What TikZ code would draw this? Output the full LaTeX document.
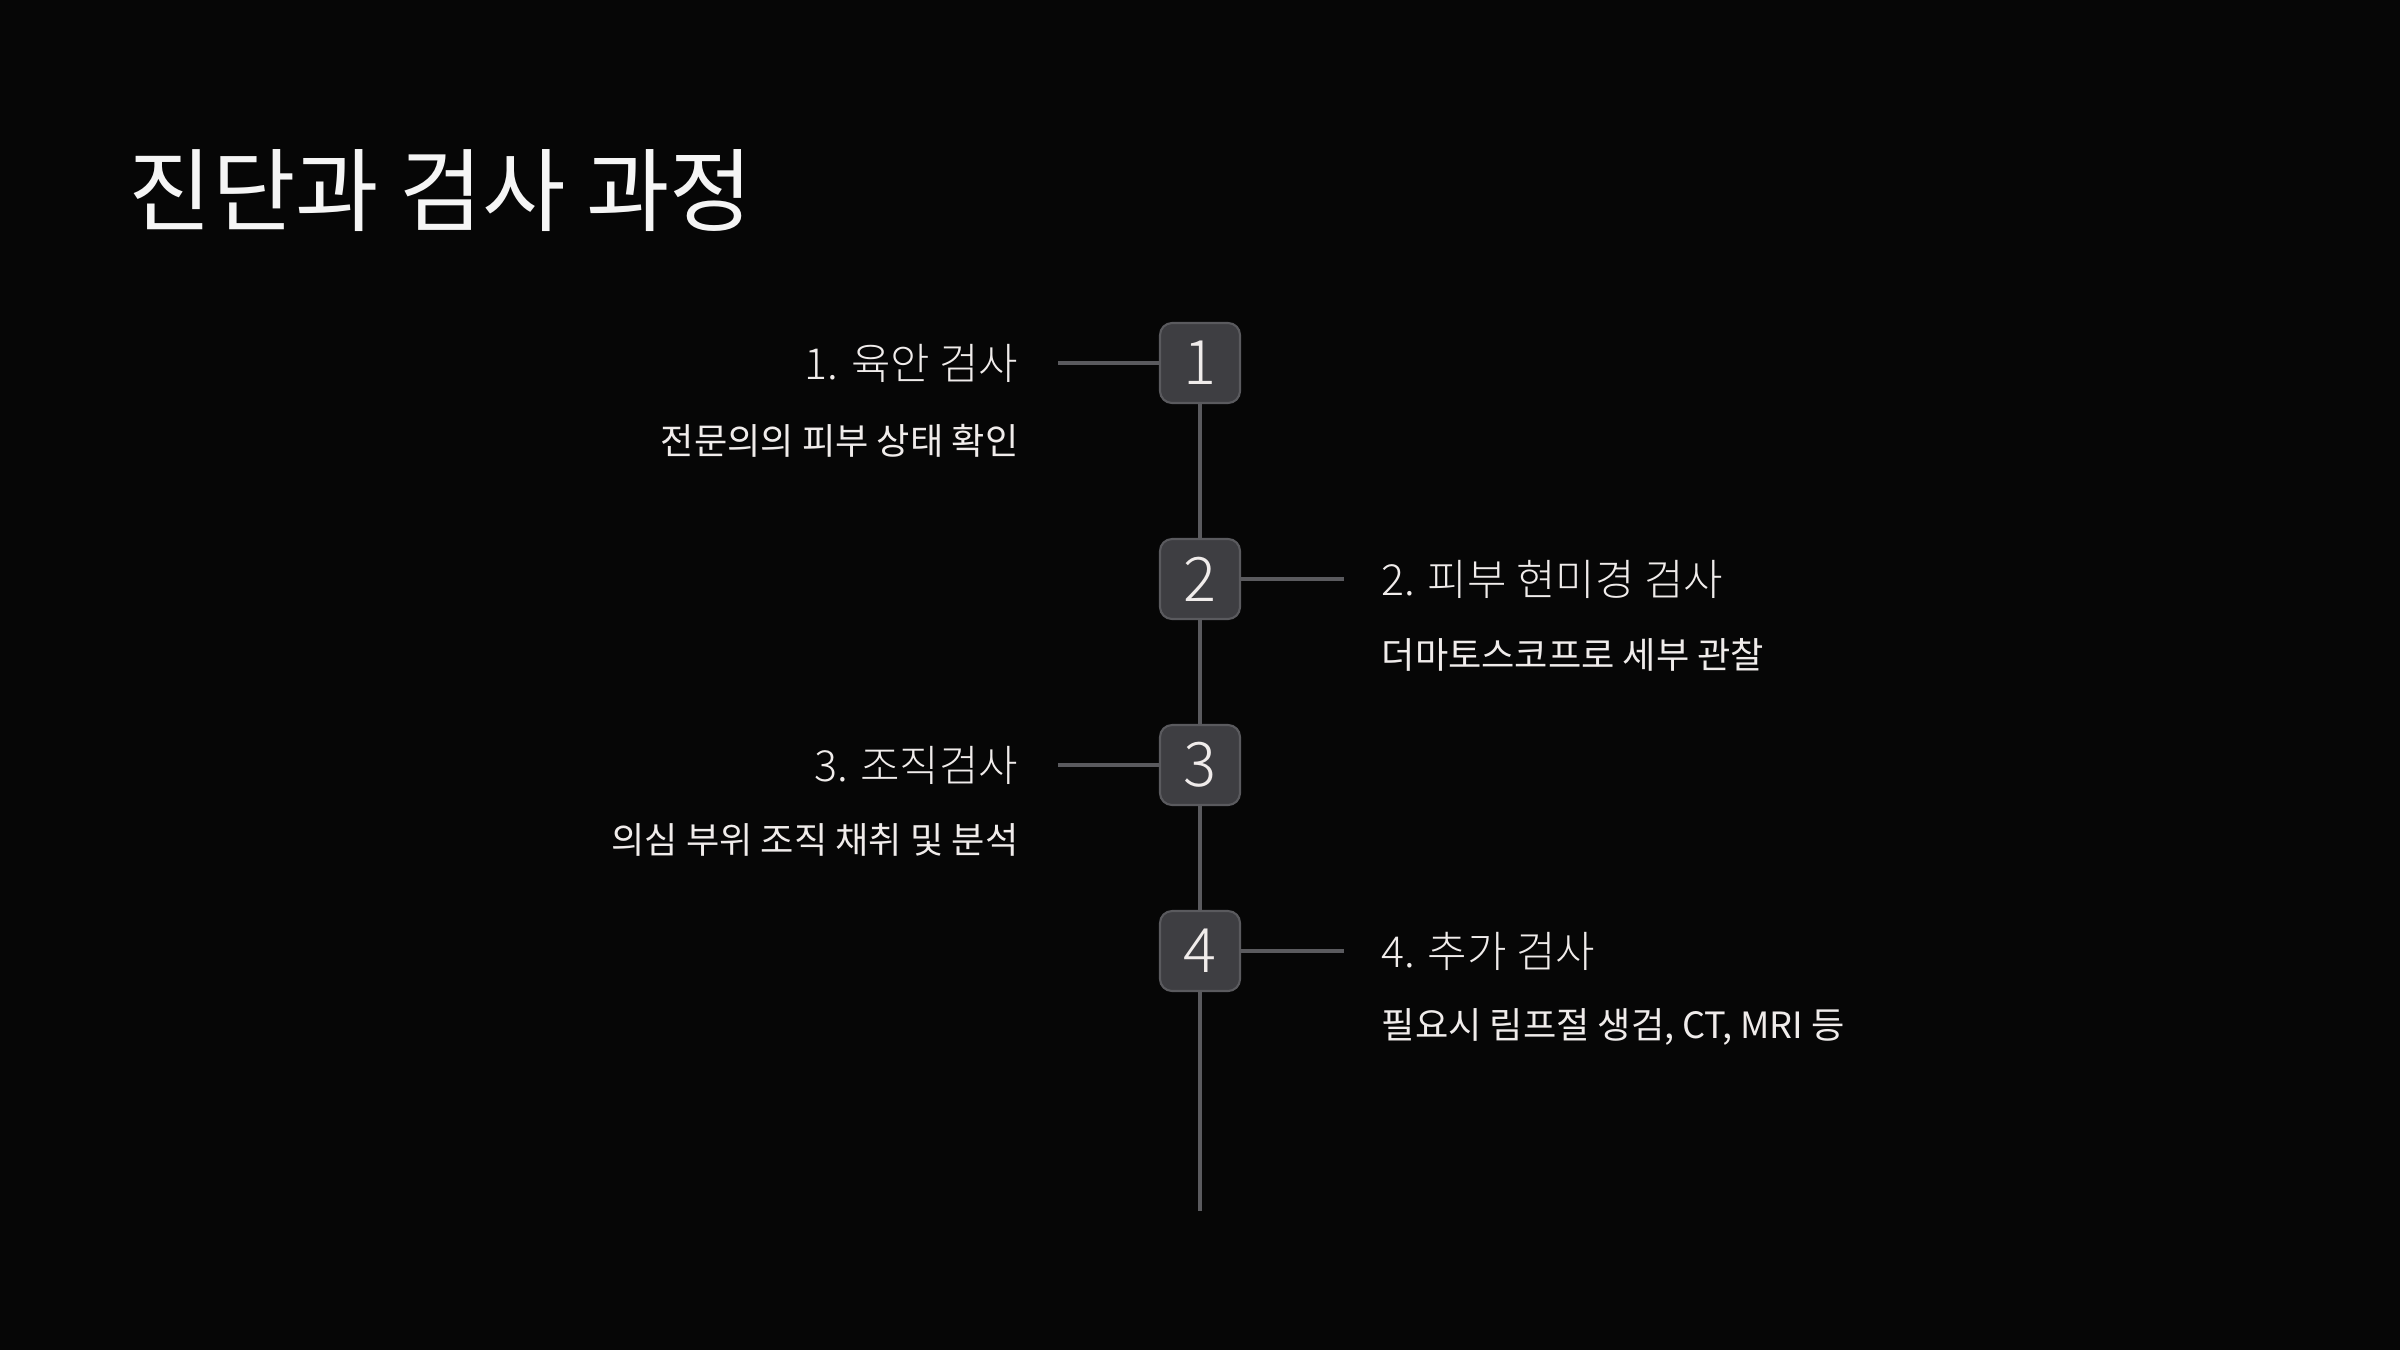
\documentclass[tikz,border=0pt]{standalone}
\usepackage{fontspec}
\setmainfont{Noto Sans CJK KR}
\newfontfamily\lightfont{Noto Sans CJK KR Light}
\usetikzlibrary{calc, positioning}

\definecolor{bgdark}{HTML}{060606}
\definecolor{boxfill}{HTML}{3E3E42}
\definecolor{boxline}{HTML}{5A5A5E}
\definecolor{txtwhite}{HTML}{F0ECEB}

\begin{document}
\begin{tikzpicture}[x=1cm, y=-1cm,
    stepbox/.style={draw=boxline, fill=boxfill, line width=0.6pt, rounded corners=0.12cm,
        minimum size=0.8cm, inner sep=0pt, text=txtwhite, font=\lightfont\fontsize{17.5}{20}\selectfont},
    headtext/.style={inner sep=0pt, text=txtwhite, font=\lightfont\fontsize{12.2}{14}\selectfont},
    subtext/.style={inner sep=0pt, text=txtwhite, font=\fontsize{10.3}{12}\selectfont},
    link/.style={draw=boxline, line width=1.1pt}]
        \fill[bgdark] (0,0) rectangle (24,13.5);

        \node[anchor=west, inner sep=0pt, text=white!96!black, font=\fontsize{25.8}{30}\selectfont] (title) at (1.28,1.91) {진단과 검사 과정};

        \node[stepbox] (s1) at (12,3.63) {1};
        \node[stepbox] (s2) at (12,5.79) {2};
        \node[stepbox] (s3) at (12,7.65) {3};
        \node[stepbox] (s4) at (12,9.51) {4};
        \coordinate (lineend) at (12,12.11);

        \coordinate (c1) at (10.58,3.63);
        \coordinate (c2) at (13.44,5.79);
        \coordinate (c3) at (10.58,7.65);
        \coordinate (c4) at (13.44,9.51);

        % timeline
        \draw[link] (s1) -- (s2);
        \draw[link] (s2) -- (s3);
        \draw[link] (s3) -- (s4);
        \draw[link] (s4) -- (lineend);

        \draw[link] (c1) -- (s1.west);
        \draw[link] (s2.east) -- (c2);
        \draw[link] (c3) -- (s3.west);
        \draw[link] (s4.east) -- (c4);

        \node[headtext, anchor=east] (h1) at (10.19,3.63) {1. 육안 검사};
        \node[subtext, anchor=east] (d1) at (10.19,4.41) {전문의의 피부 상태 확인};

        \node[headtext, anchor=west] (h2) at (13.81,5.79) {2. 피부 현미경 검사};
        \node[subtext, anchor=west] (d2) at (13.81,6.55) {더마토스코프로 세부 관찰};

        \node[headtext, anchor=east] (h3) at (10.19,7.65) {3. 조직검사};
        \node[subtext, anchor=east] (d3) at (10.19,8.40) {의심 부위 조직 채취 및 분석};

        \node[headtext, anchor=west] (h4) at (13.81,9.51) {4. 추가 검사};
        \node[subtext, anchor=west] (d4) at (13.81,10.27) {필요시 림프절 생검, CT, MRI 등};
\end{tikzpicture}
\end{document}
